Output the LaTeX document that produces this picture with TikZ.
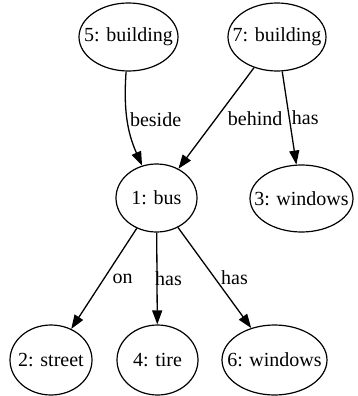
\documentclass[tikz,border=0pt]{standalone}
\usepackage{fontspec}
\setmainfont{Liberation Serif}
\usetikzlibrary{shapes.geometric,arrows.meta}
\newcommand\nodetext[1]{\makebox[0pt]{#1}}
\begin{document}
\begin{tikzpicture}[x=1pt,y=-1pt,
  obj/.style={ellipse,draw,line width=1.2pt,inner sep=0pt,font=\fontsize{20}{24}\selectfont},
  rel/.style={-{Triangle[length=14pt,width=10pt]},line width=1.3pt},
  lab/.style={anchor=west,inner sep=0pt,font=\fontsize{20}{24}\selectfont}]
\useasboundingbox (0,0) rectangle (358,396);
\node[obj,minimum width=99pt,minimum height=68pt] (n5) at (128.5,37) {\nodetext{5: building}};
\node[obj,minimum width=98pt,minimum height=68pt] (n7) at (277,37) {\nodetext{7: building}};
\node[obj,minimum width=81pt,minimum height=68pt] (n1) at (156.5,198) {\nodetext{1: bus}};
\node[obj,minimum width=103pt,minimum height=67pt] (n3) at (301.5,198.5) {\nodetext{3: windows}};
\node[obj,minimum width=82pt,minimum height=70pt] (n2) at (51,360) {\nodetext{2: street}};
\node[obj,minimum width=81pt,minimum height=70pt] (n4) at (157.5,360) {\nodetext{4: tire}};
\node[obj,minimum width=105pt,minimum height=70pt] (n6) at (274.5,360) {\nodetext{6: windows}};
\draw[rel] (n5) to[out=-94,in=114] node[lab,pos=0.5,xshift=2pt] {beside} (n1);
\draw[rel] (n7) -- node[lab,pos=0.5,xshift=11pt] {behind} (n1);
\draw[rel] (n7) -- node[lab,pos=0.5,xshift=2pt] {has} (n3);
\draw[rel] (n1) -- node[lab,pos=0.5,xshift=8pt] {on} (n2);
\draw[rel] (n1) -- node[lab,pos=0.5,xshift=-2.5pt] {has} (n4);
\draw[rel] (n1) -- node[lab,pos=0.5,xshift=6pt] {has} (n6);
\end{tikzpicture}
\end{document}
